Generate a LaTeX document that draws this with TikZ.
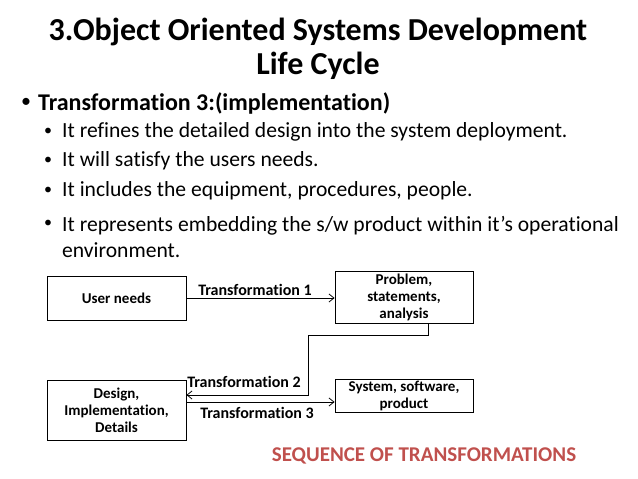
\documentclass[tikz,border=0pt]{standalone}
\usepackage{fontspec}
\setmainfont[RawFeature=-liga]{Carlito}
\usetikzlibrary{arrows.meta}
\definecolor{seqred}{HTML}{C0504D}
\begin{document}
\begin{tikzpicture}[x=1pt,y=-1pt,
 box/.style={draw,thick,font=\bfseries\fontsize{15}{17}\selectfont,align=center,inner sep=0pt},
 conn/.style={thick,-{Straight Barb[length=5pt,width=8pt]}},
 lbl/.style={font=\bfseries\fontsize{16}{18}\selectfont},
 dot/.style={font=\fontsize{16}{19}\selectfont},
 txt/.style={anchor=west,font=\fontsize{21.6}{26}\selectfont,inner sep=0pt}]
\useasboundingbox (0,0) rectangle (638,479);
\node[font=\bfseries\fontsize{32}{34}\selectfont,align=center] (title) at (318,49) {3.Object Oriented Systems Development\\Life Cycle};
\node[font=\fontsize{20}{24}\selectfont] (d0) at (26,103) {\textbullet};
\node[anchor=west,inner sep=0pt,font=\bfseries\fontsize{24}{26}\selectfont] (b0) at (38,103) {Transformation 3:(implementation)};
\node[dot] (d1) at (48,132) {\textbullet};
\node[txt] (b1) at (62,132) {It refines the detailed design into the system deployment.};
\node[dot] (d2) at (48,161) {\textbullet};
\node[txt] (b2) at (62,161) {It will satisfy the users needs.};
\node[dot] (d3) at (48,191) {\textbullet};
\node[txt] (b3) at (62,191) {It includes the equipment, procedures, people.};
\node[dot] (d4) at (48,224) {\textbullet};
\node[txt,align=left] (b4) at (62,237) {It represents embedding the s/w product within it’s operational\\environment.};
\node[box,minimum width=139pt,minimum height=44pt] (u) at (116.5,298) {User needs};
\node[box,minimum width=138pt,minimum height=52pt] (p) at (404,297) {Problem,\\statements,\\analysis};
\node[box,minimum width=139pt,minimum height=60pt] (d) at (116.5,410) {Design,\\Implementation,\\Details};
\node[box,minimum width=138pt,minimum height=33pt] (s) at (404,395.5) {System, software,\\product};
\draw[conn] (u.east) -- (u.east -| p.west);
\node[lbl] (t1) at (255,290) {Transformation 1};
\coordinate (k1) at (428,335);
\coordinate (k2) at (308,335);
\coordinate (k3) at (308,395);
\draw[conn] (p.south -| k1) -- (k1) -- (k2) -- (k3) -- (k3 -| d.east);
\node[lbl] (t2) at (244,382) {Transformation 2};
\draw[conn] (d.east |- 0,402) -- (s.west |- 0,402);
\node[lbl] (t3) at (257,413) {Transformation 3};
\node[font=\bfseries\fontsize{21}{24}\selectfont,text=seqred] (seq) at (424,456) {SEQUENCE OF TRANSFORMATIONS};
\end{tikzpicture}
\end{document}
